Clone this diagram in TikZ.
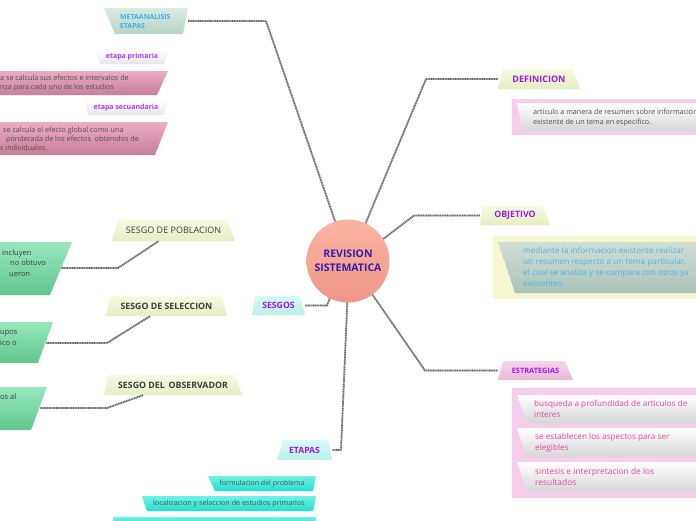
\documentclass[tikz,border=0pt]{standalone}
\usepackage{fontspec}
\setmainfont{Open Sans}
\usetikzlibrary{calc}
\definecolor{purp}{RGB}{155,25,230}
\definecolor{purpl}{RGB}{175,60,245}
\definecolor{circtxt}{RGB}{55,30,170}
\definecolor{salA}{RGB}{252,180,162}
\definecolor{salB}{RGB}{238,150,135}
\definecolor{metablue}{RGB}{60,175,240}
\definecolor{txtgray}{RGB}{80,80,80}
\definecolor{darkgray}{RGB}{60,60,60}
\definecolor{objblue}{RGB}{75,180,235}
\definecolor{magtxt}{RGB}{228,70,160}
\definecolor{greenA}{RGB}{150,232,188}
\definecolor{greenB}{RGB}{98,198,142}
\definecolor{pinkA}{RGB}{236,172,196}
\definecolor{pinkB}{RGB}{200,126,152}
\definecolor{metaA}{RGB}{218,236,226}
\definecolor{metaB}{RGB}{182,212,196}
\definecolor{yelA}{RGB}{246,250,222}
\definecolor{yelB}{RGB}{228,238,196}
\definecolor{cyanlA}{RGB}{215,250,245}
\definecolor{cyanlB}{RGB}{185,240,232}
\definecolor{pinklA}{RGB}{246,212,234}
\definecolor{pinklB}{RGB}{232,186,214}
\definecolor{outpink}{RGB}{246,206,236}
\definecolor{outyel}{RGB}{246,246,208}
\definecolor{objA}{RGB}{208,222,214}
\definecolor{objB}{RGB}{170,195,184}
\definecolor{cyA}{RGB}{110,242,230}
\definecolor{cyB}{RGB}{35,222,206}
\tikzset{
  conn/.style={draw=black!25, line width=1.7pt, line join=round,
    postaction={draw=black!62, line width=1.7pt, dash pattern=on 0.9pt off 0.8pt}},
  lbl/.style={inner sep=0pt, align=center, text=purp, font=\bfseries\fontsize{9}{10.8}\selectfont},
  sesgolbl/.style={inner sep=0pt, align=center, text=darkgray, font=\bfseries\fontsize{8.8}{10.5}\selectfont},
  body/.style={inner sep=0pt, align=left, text=txtgray, font=\fontsize{7.2}{9}\selectfont},
  graybox/.style={top color=white, bottom color=black!16},
}
\begin{document}
\begin{tikzpicture}[x=1pt,y=-1pt]
\useasboundingbox (0,0) rectangle (696,520);
\clip (0,0) rectangle (696,520);
\fill[white] (0,0) rectangle (696,520);

% ---------- shapes, left top
\shade[top color=metaA, bottom color=metaB] (104,8) -- (188,8) -- (183,34) -- (115,34) -- cycle;
\shade[top color=white, bottom color=black!10] (96,50) -- (168,50) -- (164,64) -- (100,64) -- cycle;
\shade[top color=pinkA, bottom color=pinkB] (-5,71) -- (168,71) -- (157,95) -- (-5,95) -- cycle;
\shade[top color=white, bottom color=black!10] (84,100) -- (168,100) -- (164,115) -- (88,115) -- cycle;
\shade[top color=pinkA, bottom color=pinkB] (-5,122) -- (168,122) -- (155,155) -- (-5,155) -- cycle;

% ---------- sesgo shapes
\shade[top color=yelA, bottom color=yelB] (118,220) -- (227,220) -- (235,241) -- (112,241) -- cycle;
\shade[top color=yelA, bottom color=yelB] (110,296) -- (222,296) -- (227,316) -- (106,316) -- cycle;
\shade[top color=yelA, bottom color=yelB] (108,375) -- (235,375) -- (242,395) -- (104,395) -- cycle;
\shade[top color=greenA, bottom color=greenB] (-5,242) -- (72,242) -- (50,295) -- (-5,295) -- cycle;
\shade[top color=greenA, bottom color=greenB] (-5,322) -- (53,322) -- (38,363) -- (-5,363) -- cycle;
\shade[top color=greenA, bottom color=greenB] (-5,387) -- (47,387) -- (31,430) -- (-5,430) -- cycle;

% ---------- right side shapes
\shade[top color=yelA, bottom color=yelB] (503,69) -- (573,69) -- (580,89) -- (498,89) -- cycle;
\fill[outpink] (512,99) rectangle (700,135);
\shade[graybox] (517,103) -- (700,103) -- (700,131) -- (523,131) -- cycle;

\shade[top color=yelA, bottom color=yelB] (482,206) -- (542,206) -- (550,225) -- (480,225) -- cycle;
\fill[outyel] (493,236) rectangle (700,299);
\shade[top color=objA, bottom color=objB] (498,242) -- (700,242) -- (700,293) -- (515,293) -- cycle;

\shade[top color=pinklA, bottom color=pinklB] (503,361) -- (565,361) -- (573,380) -- (498,380) -- cycle;
\fill[outpink] (512,388) rectangle (700,498);
\shade[graybox] (517,395) -- (700,395) -- (700,423) -- (527,423) -- cycle;
\shade[graybox] (517,428) -- (700,428) -- (700,457) -- (527,457) -- cycle;
\shade[graybox] (517,462) -- (700,462) -- (700,492) -- (527,492) -- cycle;

% ---------- bottom shapes
\shade[top color=cyanlA, bottom color=cyanlB] (255,296) -- (300,296) -- (305,315) -- (252,315) -- cycle;
\shade[top color=cyanlA, bottom color=cyanlB] (283,440) -- (328,440) -- (332,460) -- (277,460) -- cycle;
\shade[top color=cyA, bottom color=cyB] (208,476) -- (316,476) -- (313,491) -- (215,491) -- cycle;
\shade[top color=cyA, bottom color=cyB] (142,496) -- (316,496) -- (313,511) -- (147,511) -- cycle;
\shade[top color=cyA, bottom color=cyB] (113,517) -- (316,517) -- (316,525) -- (113,525) -- cycle;

% ---------- nodes
\node[circle, minimum size=83pt, inner sep=0pt, top color=salA, bottom color=salB,
      text=circtxt, align=center, font=\bfseries\fontsize{10.5}{14}\selectfont] (c) at (348,261) {REVISION\\SISTEMATICA};

\node[inner sep=0pt, minimum width=84, minimum height=26, text width=52pt, align=left,
      text=metablue, font=\bfseries\fontsize{7}{9}\selectfont] (meta) at (146,21) {METAANALISIS\\ETAPAS};
\node[lbl, text=purpl, font=\bfseries\fontsize{7}{8}\selectfont, minimum width=72, minimum height=14] (prim) at (132,57) {etapa primaria};
\node[lbl, text=purpl, font=\bfseries\fontsize{7}{8}\selectfont, minimum width=84, minimum height=15] (secu) at (126,107.5) {etapa secuandaria};
\node[body, anchor=west] (p1) at (0,83.5) {a se calcula sus efectos e intervalos de\\nza para cada uno de los estudios};
\node[body, anchor=west] (p2) at (0,138.5) {\hspace*{3pt}se calcula el efecto global como una\\\hspace*{6pt}ponderada de los efectos\ \ obtenidos de\\s individuales.};

\node[sesgolbl, font=\fontsize{9}{10.8}\selectfont, minimum width=123, minimum height=21] (pob) at (173.5,230.5) {SESGO DE POBLACION};
\node[sesgolbl, minimum width=121, minimum height=20] (sel) at (166.5,306) {SESGO DE SELECCION};
\node[sesgolbl, minimum width=138, minimum height=20] (obs) at (173,385) {SESGO DEL\ \,OBSERVADOR};
\node[body, text=darkgray, font=\fontsize{7.5}{10.5}\selectfont, anchor=west] (g1) at (2,263) {incluyen\\\hspace*{8pt}no obtuvo\\\hspace*{7pt}ueron};
\node[body, text=darkgray, font=\fontsize{7.5}{11}\selectfont, anchor=west] (g2) at (0,337.5) {upos\\ico o};
\node[body, text=darkgray, font=\fontsize{7.5}{10.5}\selectfont, anchor=west] (g3) at (0,397) {os al};
\coordinate (g1e) at (61,268);
\coordinate (g2e) at (46,343);
\coordinate (g3e) at (40,408);

\node[lbl, minimum width=82, minimum height=20] (defn) at (539,79) {DEFINICION};
\node[body, font=\fontsize{7.2}{9.5}\selectfont, anchor=west] (dtxt) at (533,117.5) {articulo a manera de resumen sobre información\\existente de un tema en especifico.};
\node[lbl, font=\bfseries\fontsize{8.8}{10.5}\selectfont, minimum width=70, minimum height=19] (obj) at (515,215.5) {OBJETIVO};
\node[body, text=objblue, font=\fontsize{8.2}{11}\selectfont, anchor=west] (otxt) at (523,267) {mediante la informacion existente realizar\\un resumen respecto a un tema particular,\\el cual se analiza y se compara con otros ya\\existentes.};
\node[lbl, font=\bfseries\fontsize{7.4}{9}\selectfont, minimum width=75, minimum height=19] (estr) at (535.5,370.5) {ESTRATEGIAS};
\node[body, text=magtxt, font=\fontsize{8.2}{11}\selectfont, anchor=west] (e1) at (534,408.5) {busqueda a profundidad de articulos de\\interes};
\node[body, text=magtxt, font=\fontsize{8.2}{11}\selectfont, anchor=west] (e2) at (535,442.5) {se establecen los aspectos para ser\\elegibles};
\node[body, text=magtxt, font=\fontsize{8.4}{11}\selectfont, anchor=west] (e3) at (535,477) {sintesis e interpretacion de los\\resultados};

\node[lbl, font=\bfseries\fontsize{8.7}{10}\selectfont, minimum width=53, minimum height=19] (sesgos) at (278.5,305.5) {SESGOS};
\node[lbl, font=\bfseries\fontsize{8.6}{10}\selectfont, minimum width=55, minimum height=20] (etapas) at (304.5,450) {ETAPAS};
\node[body, font=\fontsize{7}{8}\selectfont, align=center] (f1) at (262,483.5) {formulacion del problema};
\node[body, font=\fontsize{7.2}{8}\selectfont, align=center] (f2) at (229,503.5) {localizacion y selaccion de estudios primarios};

% ---------- connectors
\coordinate (bm) at (266,21);
\coordinate (bd) at (426,79);
\coordinate (bo) at (414,215.5);
\coordinate (be) at (425,370.5);
\coordinate (bt) at (341,450);
\coordinate (bs) at (327,305.5);
\draw[conn] (c.108) -- (bm) -- (meta.east);
\draw[conn] (c.65) -- (bd) -- (defn.west);
\draw[conn] (c.32) -- (bo) -- (obj.west);
\draw[conn] (c.-54) -- (be) -- (estr.west);
\draw[conn] (c.-91) -- (bt) -- (etapas.east);
\draw[conn] (c.-116) -- (bs) -- (sesgos.east);

\coordinate (bp) at (118,268);
\coordinate (bsl) at (107,343);
\coordinate (bob) at (107,408);
\draw[conn] ([xshift=-15pt]pob.south) -- (bp) -- (g1e);
\draw[conn] ([xshift=-16.5pt]sel.south) -- (bsl) -- (g2e);
\draw[conn] ([xshift=-30pt]obs.south) -- (bob) -- (g3e);
\end{tikzpicture}
\end{document}
